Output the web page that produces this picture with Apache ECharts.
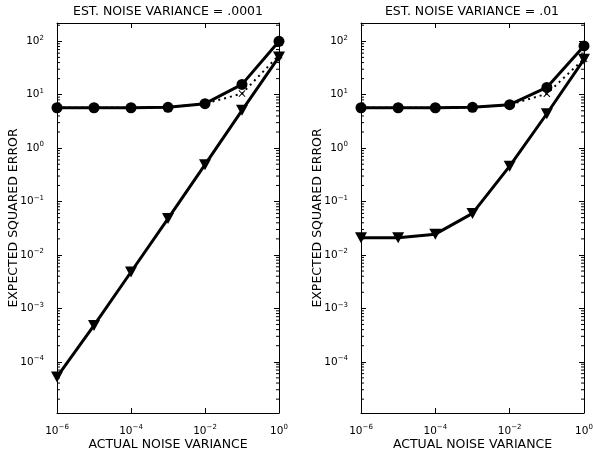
<!DOCTYPE html>
<html>
<head>
<meta charset="utf-8">
<script src="https://cdn.jsdelivr.net/npm/echarts@6/dist/echarts.min.js"></script>
<style>
  html, body { margin: 0; padding: 0; background: #fff; }
  #chart { width: 593px; height: 455px; }
</style>
</head>
<body>
<div id="chart"></div>
<script>
// actual noise variance (x) shared by both panels
const noiseVar = [1e-6, 1e-5, 1e-4, 1e-3, 1e-2, 1e-1, 1];
const titles = ['EST. NOISE VARIANCE = .0001', 'EST. NOISE VARIANCE = .01'];

// left panel (est. variance .0001)
const circA = [5.7, 5.7, 5.7, 5.8, 6.8, 15.6, 100];
const dotA = [5.7, 5.7, 5.7, 5.8, 6.8, 10.5, 55];
const triA = [5.2e-5, 4.8e-4, 4.8e-3, 4.8e-2, 0.49, 5.1, 51];

// right panel (est. variance .01)
const circB = [5.7, 5.7, 5.7, 5.8, 6.5, 13.7, 82];
const dotB = [5.7, 5.7, 5.7, 5.8, 6.5, 10.4, 47];
const triB = [0.021, 0.021, 0.0245, 0.06, 0.46, 4.4, 46];

const yMin = 1.1e-5, yMax = 220;
const font = 'DejaVu Sans, Verdana, sans-serif';

// minor log ticks 2..9 in every decade
const minorTicks = [];
for (let d = -5; d <= 2; d++) {
  for (let k = 2; k <= 9; k++) {
    const v = k * Math.pow(10, d);
    if (v > yMin && v < yMax) minorTicks.push(v);
  }
}

function powLabel(v) {
  const e = Math.log10(v);
  if (Math.abs(e - Math.round(e)) > 1e-6) return '';
  const n = Math.round(e);
  return '{b|10}{s|' + (n < 0 ? '\u2212' + (-n) : n) + '}';
}

const richLabel = {
  b: { fontSize: 10.5, fontFamily: font, color: '#000', lineHeight: 14 },
  s: { fontSize: 7, fontFamily: font, color: '#000', verticalAlign: 'top', lineHeight: 8, padding: [0, 0, 8, 0] }
};

const chart = echarts.init(document.getElementById('chart'));

const grids = [
  { left: 57, top: 23, width: 222, height: 390, outerBoundsMode: 'none' },
  { left: 361, top: 23, width: 223, height: 390, outerBoundsMode: 'none' }
];
const centers = [168, 472];
const nameStyle = { fontSize: 12.5, fontFamily: font, color: '#000' };

const xAxes = [], yAxes = [], series = [], title = [];
const panels = [[circA, dotA, triA], [circB, dotB, triB]];

panels.forEach((p, i) => {
  title.push({
    text: titles[i], left: centers[i], top: 5, textAlign: 'center', padding: 0,
    textStyle: Object.assign({ fontWeight: 'normal' }, nameStyle)
  });
  const baseX = {
    type: 'log', gridIndex: i, min: 1e-6, max: 1, interval: 2,
    axisLine: { show: true, lineStyle: { color: '#000', width: 1 } },
    axisTick: { show: true, inside: true, length: 5, lineStyle: { color: '#000' } },
    splitLine: { show: false }
  };
  xAxes.push(Object.assign({}, baseX, {
    position: 'bottom',
    name: 'ACTUAL NOISE VARIANCE', nameLocation: 'middle', nameGap: 25, nameMoveOverlap: false,
    nameTextStyle: nameStyle,
    axisLabel: { formatter: powLabel, rich: richLabel, margin: 11 }
  }));
  xAxes.push(Object.assign({}, baseX, { position: 'top', axisLabel: { show: false } }));

  const baseY = {
    type: 'log', gridIndex: i, min: yMin, max: yMax,
    axisLine: { show: true, lineStyle: { color: '#000', width: 1 } },
    axisTick: { show: true, inside: true, length: 5, lineStyle: { color: '#000' } },
    splitLine: { show: false }
  };
  yAxes.push(Object.assign({}, baseY, {
    position: 'left',
    name: 'EXPECTED SQUARED ERROR', nameLocation: 'middle', nameGap: 37, nameMoveOverlap: false,
    nameTextStyle: nameStyle,
    axisLabel: { formatter: powLabel, rich: richLabel, margin: 13 }
  }));
  yAxes.push(Object.assign({}, baseY, { position: 'right', axisLabel: { show: false } }));

  const xi = i * 2, yi = i * 2;
  const pts = arr => noiseVar.map((x, j) => [x, arr[j]]);

  series.push({
    type: 'custom', xAxisIndex: xi, yAxisIndex: yi, silent: true, clip: false,
    data: minorTicks.map(v => [noiseVar[0], v]),
    renderItem: (params, api) => {
      const l = api.coord([noiseVar[0], api.value(1)]);
      const r = api.coord([noiseVar[noiseVar.length - 1], api.value(1)]);
      const st = { stroke: '#000', lineWidth: 1 };
      return {
        type: 'group', children: [
          { type: 'line', shape: { x1: l[0], y1: l[1], x2: l[0] + 3, y2: l[1] }, style: st },
          { type: 'line', shape: { x1: r[0], y1: r[1], x2: r[0] - 3, y2: r[1] }, style: st }
        ]
      };
    }
  });
  series.push({
    type: 'line', xAxisIndex: xi, yAxisIndex: yi, data: pts(p[1]),
    lineStyle: { color: '#000', width: 2, type: [2, 4] },
    symbol: 'path://M0,1L1,0L5,4L9,0L10,1L6,5L10,9L9,10L5,6L1,10L0,9L4,5Z', symbolSize: 7,
    itemStyle: { color: '#000' }, silent: true, animation: false
  });
  series.push({
    type: 'line', xAxisIndex: xi, yAxisIndex: yi, data: pts(p[2]),
    lineStyle: { color: '#000', width: 3 },
    symbol: 'triangle', symbolRotate: 180, symbolSize: [12, 11],
    itemStyle: { color: '#000' }, silent: true, animation: false
  });
  series.push({
    type: 'line', xAxisIndex: xi, yAxisIndex: yi, data: pts(p[0]),
    lineStyle: { color: '#000', width: 3 },
    symbol: 'circle', symbolSize: 11,
    itemStyle: { color: '#000' }, silent: true, animation: false
  });
});

chart.setOption({
  animation: false,
  backgroundColor: '#fff',
  title: title,
  grid: grids,
  xAxis: xAxes,
  yAxis: yAxes,
  series: series
});
</script>
</body>
</html>
